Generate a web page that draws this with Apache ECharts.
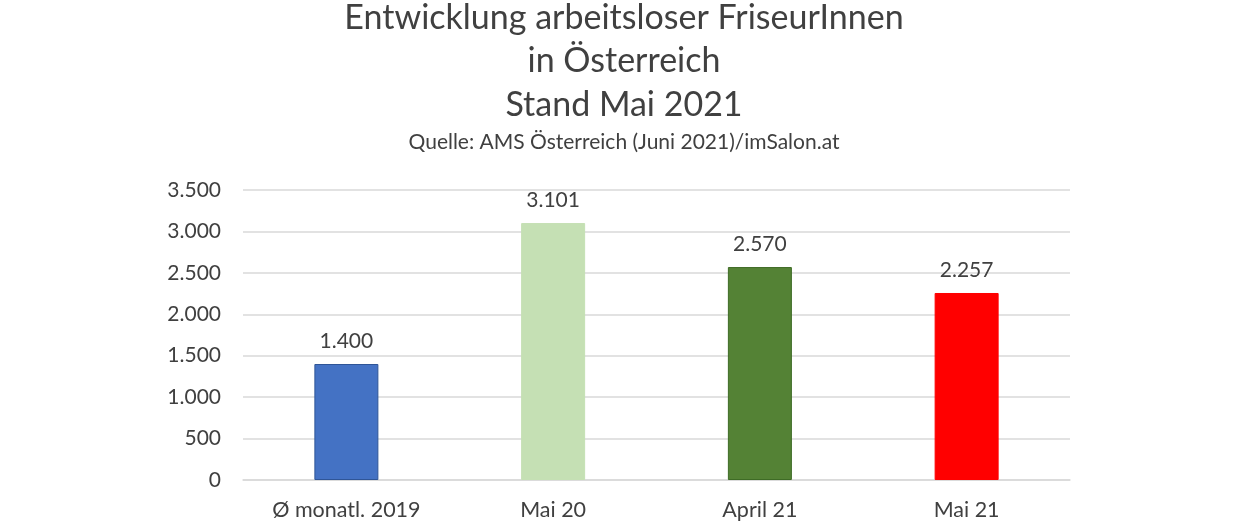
<!DOCTYPE html>
<html><head><meta charset="utf-8">
<script src="https://cdn.jsdelivr.net/npm/echarts@6/dist/echarts.min.js"></script>
<style>html,body{margin:0;padding:0;background:#fff}#c{width:1248px;height:523px}</style>
</head><body><div id="c"></div>
<script>
const categories = ["Ø monatl. 2019", "Mai 20", "April 21", "Mai 21"];
const values = [1400, 3101, 2570, 2257];
const barColors = ["#4472C4", "#C5E0B4", "#548235", "#FF0000"];
const borderColors = ["#2F5597", "#C5E0B4", "#3E6B25", "#FF0000"];
const titleLines = ["Entwicklung arbeitsloser FriseurInnen", "in Österreich", "Stand Mai 2021"];
const subtitle = "Quelle: AMS Österreich (Juni 2021)/imSalon.at";

const fmt = v => String(v).replace(/\B(?=(\d{3})+(?!\d))/g, ".");
const font = "Lato, 'Open Sans', sans-serif";
const chart = echarts.init(document.getElementById('c'));
chart.setOption({
  animation: false,
  title: [
    { text: titleLines.join("\n"), left: 'center', top: -9,
      textStyle: { fontFamily: font, fontSize: 34, fontWeight: 'normal', color: '#404040', lineHeight: 43.5 } },
    { text: subtitle, left: 'center', top: 127,
      textStyle: { fontFamily: font, fontSize: 21, fontWeight: 'normal', color: '#404040' } }
  ],
  grid: { left: 243, right: 178, top: 190, bottom: 43, containLabel: false },
  xAxis: {
    type: 'category', data: categories,
    axisLine: { lineStyle: { color: '#D9D9D9', width: 1.5 } },
    axisTick: { show: false },
    axisLabel: { fontFamily: font, fontSize: 21.5, color: '#404040', margin: 19 }
  },
  yAxis: {
    type: 'value', min: 0, max: 3500, interval: 500,
    axisLine: { show: false }, axisTick: { show: false },
    splitLine: { lineStyle: { color: '#D9D9D9', width: 1.5 } },
    axisLabel: { fontFamily: font, fontSize: 21, color: '#404040', margin: 22, formatter: fmt }
  },
  series: [{
    type: 'bar', barWidth: 64,
    data: values.map((v, i) => ({ value: v, itemStyle: { color: barColors[i], borderColor: borderColors[i], borderWidth: 1 } })),
    label: { show: true, position: 'top', distance: 12, fontFamily: font, fontSize: 21, color: '#404040', formatter: p => fmt(p.value) }
  }]
});
</script></body></html>
